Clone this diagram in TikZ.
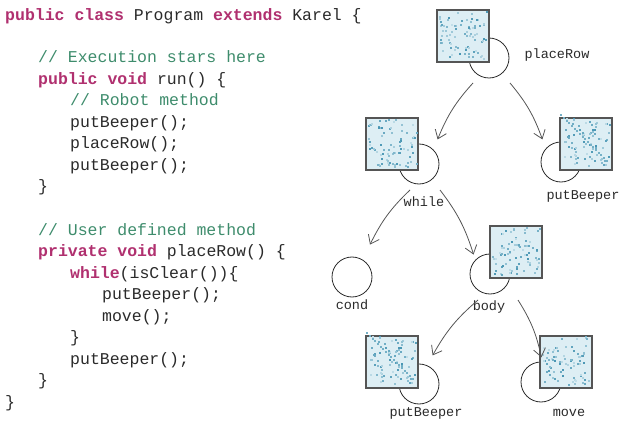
\documentclass[tikz,border=0pt]{standalone}
\usepackage{fontspec}
\setmonofont{Liberation Mono}
\usetikzlibrary{arrows.meta, positioning, calc}
\definecolor{kw}{HTML}{B0306F}
\definecolor{cm}{HTML}{3E8C6C}
\definecolor{tx}{HTML}{2A2A2A}
\definecolor{matbg}{HTML}{DDEEF4}
\definecolor{matdot}{HTML}{2E86A8}
\tikzset{
  code/.style={anchor=base west, inner sep=0pt, font=\ttfamily\fontsize{16.5}{18}\selectfont, text=tx},
  lbl/.style={inner sep=1pt, font=\ttfamily\fontsize{13.5}{15}\selectfont, text=tx},
  loop circ/.style={circle, draw=tx, thick, minimum size=40pt, inner sep=0pt},
  mat/.style={draw=tx!80, very thick, fill=matbg, minimum size=52pt, inner sep=0pt},
  arrow/.style={draw=tx!80, thick, -{Straight Barb[length=8pt,width=12pt]}}
}
\newcommand{\kw}[1]{\textcolor{kw}{\textbf{#1}}}
\newcommand{\cm}[1]{\textcolor{cm}{#1}}
% random speckle inside a matrix node
\newcommand{\speckle}[2]{%
  \begin{scope}
    \clip (#1.south west) rectangle (#1.north east);
    \pgfmathsetseed{#2}
    \foreach \i in {1,...,80}{
      \pgfmathsetmacro{\rx}{rnd*48-24}
      \pgfmathsetmacro{\ry}{rnd*48-24}
      \pgfmathsetmacro{\op}{rnd*70+15}
      \fill[matdot!\op!matbg] ($(#1)+(\rx pt,\ry pt)$) rectangle ++(2pt,2pt);
    }
  \end{scope}}
\newcommand{\diag}[1]{%
  \foreach \t in {0,0.05,...,0.9}{
    \fill[matdot!60!matbg] ($(#1.north west)!\t!(#1.south east)+(1pt,1pt)$) rectangle ++(2pt,2pt);
  }}
\begin{document}
\begin{tikzpicture}[x=1pt,y=-1pt]
\useasboundingbox (0,0) rectangle (633,428);

% code listing
\node[code] (l1) at (5,21) {\kw{public class} Program \kw{extends} Karel \{};
\node[code] (l2) at (38,63) {\cm{// Execution stars here}};
\node[code] (l3) at (38,84.5) {\kw{public void} run() \{};
\node[code] (l4) at (70,106) {\cm{// Robot method}};
\node[code] (l5) at (70,127.5) {putBeeper();};
\node[code] (l6) at (70,149) {placeRow();};
\node[code] (l7) at (70,170.5) {putBeeper();};
\node[code] (l8) at (38,192) {\}};
\node[code] (l9) at (38,235) {\cm{// User defined method}};
\node[code] (l10) at (38,256.5) {\kw{private void} placeRow() \{};
\node[code] (l11) at (70,278) {\kw{while}(isClear())\{};
\node[code] (l12) at (102,299.5) {putBeeper();};
\node[code] (l13) at (102,321) {move();};
\node[code] (l14) at (70,342.5) {\}};
\node[code] (l15) at (70,364) {putBeeper();};
\node[code] (l16) at (38,385.5) {\}};
\node[code] (l17) at (5,407) {\}};

% loops behind the matrices
\node[loop circ] (cPlace) at (489,58) {};
\node[loop circ] (cWhile) at (419,164) {};
\node[loop circ] (cPutA) at (561,162) {};
\node[loop circ] (cCond) at (352,277) {};
\node[loop circ] (cBody) at (490,274) {};
\node[loop circ] (cPutB) at (419,384) {};
\node[loop circ] (cMove) at (541,382) {};

% matrices
\node[mat] (mPlace) at (463,36) {};
\node[mat] (mWhile) at (392,144) {};
\node[mat] (mPutA) at (586,144) {};
\node[mat] (mBody) at (516,252) {};
\node[mat] (mPutB) at (392,362) {};
\node[mat] (mMove) at (566,362) {};
\speckle{mPlace}{11}
\speckle{mWhile}{23}
\speckle{mPutA}{5}\diag{mPutA}
\speckle{mBody}{41}
\speckle{mPutB}{5}\diag{mPutB}
\speckle{mMove}{77}

% labels
\node[lbl] (tPlace) at (557,55) {placeRow};
\node[lbl] (tWhile) at (424,202) {while};
\node[lbl] (tPutA) at (583,196) {putBeeper};
\node[lbl] (tCond) at (352,305) {cond};
\node[lbl] (tBody) at (489,307) {body};
\node[lbl] (tPutB) at (426,413) {putBeeper};
\node[lbl] (tMove) at (569,413) {move};

% edges
\coordinate (a1) at ($(cPlace)+(-16,25)$);
\coordinate (a2) at ($(cPlace)+(21,25)$);
\coordinate (b1) at ($(mWhile.north east)+(19,22)$);
\coordinate (b2) at ($(mPutA.north west)+(-17,22)$);
\coordinate (c1) at ($(tWhile)+(-14,-12)$);
\coordinate (c2) at ($(tWhile)+(16,-12)$);
\coordinate (d1) at ($(cCond.north)+(18,-12)$);
\coordinate (d2) at ($(cBody.north west)+(-2,-5)$);
\coordinate (e1) at ($(tBody)+(-11,-7)$);
\coordinate (e2) at ($(tBody)+(29,-7)$);
\coordinate (f1) at ($(mPutB.north east)+(14,20)$);
\coordinate (f2) at ($(mMove.north west)+(2,22)$);
\draw[arrow] (a1) to[bend right=10] (b1);
\draw[arrow] (a2) to[bend left=10] (b2);
\draw[arrow] (c1) to[bend right=10] (d1);
\draw[arrow] (c2) to[bend left=10] (d2);
\draw[arrow] (e1) to[bend right=10] (f1);
\draw[arrow] (e2) to[bend left=10] (f2);
\end{tikzpicture}
\end{document}
